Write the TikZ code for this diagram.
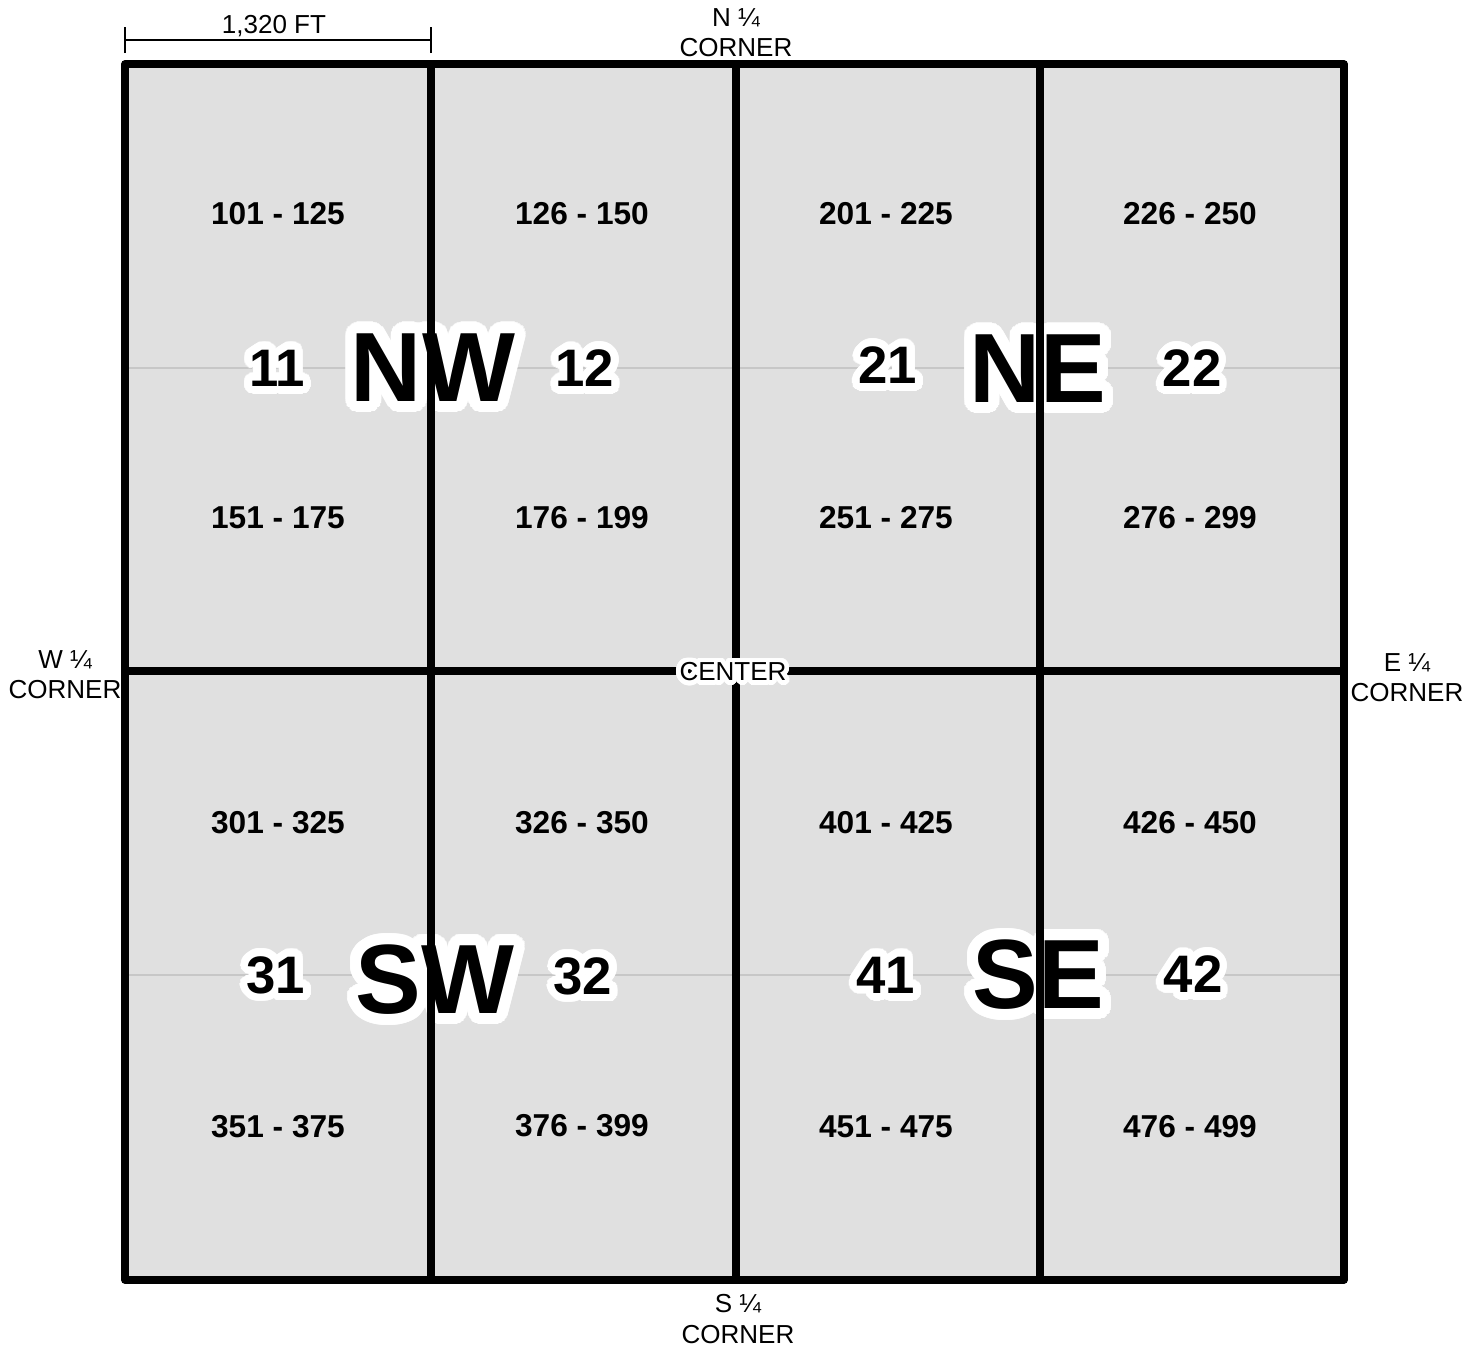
\documentclass[tikz,border=0pt]{standalone}
\usepackage{fontspec}
\setmainfont{Liberation Sans}
\usepackage{contour}
\contournumber{40}
\usetikzlibrary{positioning}

\newcommand{\halo}[2]{\contourlength{#1}\contour{white}{#2}}

\begin{document}
\begin{tikzpicture}[
  x=0.01cm, y=-0.01cm,
  font=\fontsize{7.4}{8.6}\selectfont,
  gridline/.style={draw=black, line width=2.1pt, line join=round, line cap=round},
  midline/.style={draw=black!22, line width=0.6pt},
  lotrange/.style={font=\fontsize{9}{10}\selectfont\bfseries, inner sep=0pt},
  qnum/.style={font=\fontsize{15}{16}\selectfont\bfseries, inner sep=0pt},
  qname/.style={font=\fontsize{28}{30}\selectfont\bfseries, inner sep=0pt},
  cornerlbl/.style={align=center, inner sep=0pt},
  dimline/.style={line width=0.6pt}
]
  \useasboundingbox (0,0) rectangle (1481,1345);

  % section fill
  \fill[black!12] (125,64) rectangle (1344,1280);

  % quarter-quarter half lines
  \draw[midline] (125,368) -- (1344,368);
  \draw[midline] (125,975) -- (1344,975);

  % lot ranges, north half
  \node[lotrange] (r101) at (278,214) {101 - 125};
  \node[lotrange] (r126) at (582,214) {126 - 150};
  \node[lotrange] (r201) at (886,214) {201 - 225};
  \node[lotrange] (r226) at (1190,214) {226 - 250};
  \node[lotrange] (r151) at (278,518) {151 - 175};
  \node[lotrange] (r176) at (582,518) {176 - 199};
  \node[lotrange] (r251) at (886,518) {251 - 275};
  \node[lotrange] (r276) at (1190,518) {276 - 299};

  % lot ranges, south half
  \node[lotrange] (r301) at (278,823) {301 - 325};
  \node[lotrange] (r326) at (582,823) {326 - 350};
  \node[lotrange] (r401) at (886,823) {401 - 425};
  \node[lotrange] (r426) at (1190,823) {426 - 450};
  \node[lotrange] (r351) at (278,1127) {351 - 375};
  \node[lotrange] (r376) at (582,1126) {376 - 399};
  \node[lotrange] (r451) at (886,1127) {451 - 475};
  \node[lotrange] (r476) at (1190,1127) {476 - 499};

  % quarter numbers
  \node[qnum] (q11) at (277,372) {\halo{2.2pt}{11}};
  \node[qnum] (q12) at (585,372) {\halo{2.2pt}{12}};
  \node[qnum] (q21) at (888,369) {\halo{2.2pt}{21}};
  \node[qnum] (q22) at (1192,372) {\halo{2.2pt}{22}};
  \node[qnum] (q31) at (276,979) {\halo{2.2pt}{31}};
  \node[qnum] (q32) at (583,980) {\halo{2.2pt}{32}};
  \node[qnum] (q41) at (886,979) {\halo{2.2pt}{41}};
  \node[qnum] (q42) at (1193,978) {\halo{2.2pt}{42}};

  % quarter names
  \node[qname] (nw) at (433,373) {\halo{3.2pt}{NW}};
  \node[qname] (ne) at (1038,374) {\halo{3.2pt}{NE}};
  \node[qname] (sw) at (435,985) {\halo{3.2pt}{SW}};
  \node[qname] (se) at (1038,980) {\halo{3.2pt}{SE}};

  % quarter lines and section boundary
  \draw[gridline] (431,64) -- (431,1280);
  \draw[gridline] (736,64) -- (736,1280);
  \draw[gridline] (1040,64) -- (1040,1280);
  \draw[gridline] (125,671) -- (1344,671);
  \draw[gridline] (125,64) rectangle (1344,1280);

  \node[inner sep=0pt] (center) at (733,674) {\halo{1.3pt}{CENTER}};

  % quarter corners
  \node[cornerlbl] (ncorner) at (736,33) {N ¼\\CORNER};
  \node[cornerlbl] (wcorner) at (65,675) {W ¼\\CORNER};
  \node[cornerlbl] (ecorner) at (1407,678) {E ¼\\CORNER};
  \node[cornerlbl] (scorner) at (738,1319) {S ¼\\CORNER};

  % dimension
  \coordinate (dimL) at (125,40);
  \coordinate (dimR) at (431,40);
  \draw[dimline] (dimL) -- (dimR);
  \draw[dimline] ([yshift=-3.7pt]dimL) -- ([yshift=3.7pt]dimL);
  \draw[dimline] ([yshift=-3.7pt]dimR) -- ([yshift=3.7pt]dimR);
  \node[inner sep=0pt] (dimtxt) at (274,26) {1,320 FT};
\end{tikzpicture}
\end{document}
